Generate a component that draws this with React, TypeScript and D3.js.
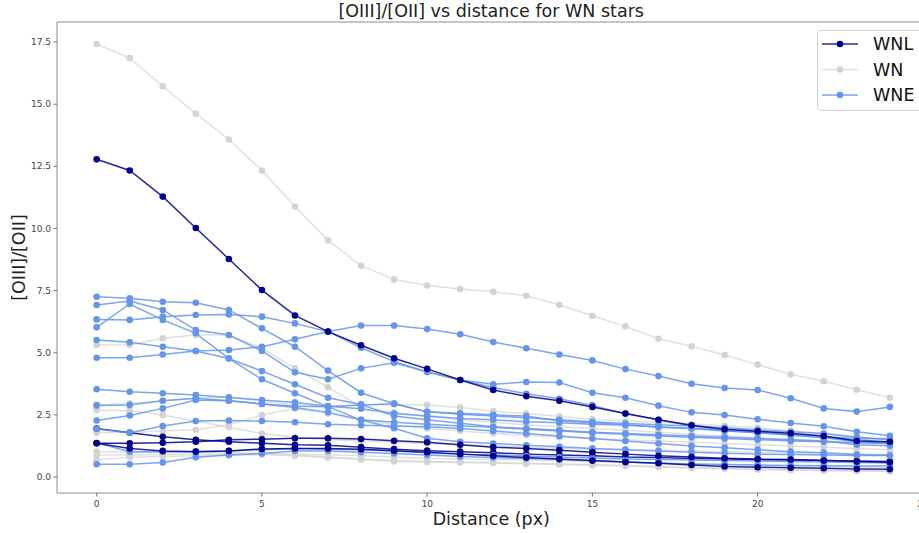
import React from "react";
import * as d3 from "d3";

const distances = d3.range(0, 25);

const xTicks = [0, 5, 10, 15, 20, 25];
const yTicks = [0, 2.5, 5, 7.5, 10, 12.5, 15, 17.5];

const typeNames = ["WNL", "WN", "WNE"];

// WN (gray) profiles
const wn1 = [17.42,16.85,15.72,14.62,13.58,12.33,10.88,9.52,8.5,7.95,7.7,7.56,7.45,7.29,6.93,6.49,6.06,5.56,5.26,4.91,4.52,4.13,3.85,3.51,3.19];
const wn2 = [5.31,5.31,5.58,5.71,5.71,5.18,4.37,3.61,2.83,2.6,2.42,2.3,2.2,2.1,2.02,1.95,1.88,1.8,1.72,1.65,1.58,1.52,1.45,1.4,1.35];
const wn3 = [2.9,2.96,3.07,3.17,3.23,3.05,2.9,2.85,2.9,2.92,2.9,2.8,2.65,2.55,2.43,2.32,2.26,2.2,2.13,2.06,1.98,1.86,1.75,1.6,1.5];
const wn4 = [2.7,2.67,2.49,2.25,2.0,1.75,1.6,1.5,1.45,1.4,1.35,1.3,1.25,1.2,1.15,1.12,1.1,1.08,1.05,1.02,1.0,0.98,0.95,0.92,0.9];
const wn5 = [1.78,1.8,1.85,1.9,2.1,2.49,2.75,2.55,2.3,2.1,1.95,1.85,1.75,1.68,1.6,1.55,1.5,1.45,1.4,1.35,1.3,1.25,1.2,1.15,1.1];
const wn6 = [1.02,1.0,1.0,1.0,0.98,0.95,0.92,0.88,0.85,0.8,0.75,0.72,0.7,0.68,0.65,0.62,0.6,0.55,0.52,0.5,0.48,0.45,0.42,0.4,0.38];
const wn7 = [0.88,0.88,0.9,0.92,0.92,0.92,0.88,0.8,0.72,0.66,0.62,0.6,0.58,0.55,0.52,0.5,0.46,0.42,0.38,0.35,0.3,0.28,0.26,0.24,0.22];
const wn8 = [0.68,0.79,0.82,0.85,0.88,0.9,0.85,0.78,0.7,0.62,0.6,0.58,0.56,0.53,0.5,0.47,0.44,0.4,0.36,0.33,0.3,0.28,0.26,0.25,0.24];

// WNE (cornflower blue) profiles
const wne1 = [7.25,7.19,7.05,7.01,6.72,5.98,5.24,4.28,3.39,2.95,2.62,2.52,2.45,2.38,2.3,2.22,2.15,2.1,2.05,1.98,1.9,1.82,1.75,1.6,1.52];
const wne2 = [6.92,7.08,6.72,5.91,5.71,5.07,4.21,3.93,4.37,4.6,4.22,3.9,3.73,3.82,3.8,3.39,3.19,2.87,2.6,2.49,2.32,2.17,2.04,1.82,1.66];
const wne3 = [6.02,6.96,6.32,5.78,4.77,3.93,3.37,2.83,2.29,1.96,1.56,1.42,1.35,1.28,1.22,1.15,1.1,1.05,1.0,0.96,0.92,0.9,0.88,0.86,0.86];
const wne4 = [6.34,6.32,6.45,6.52,6.54,6.45,6.18,5.85,5.2,4.64,4.24,3.9,3.6,3.35,3.15,2.88,2.55,2.3,2.05,1.88,1.78,1.68,1.58,1.42,1.35];
const wne5 = [4.8,4.8,4.93,5.07,5.11,5.24,5.54,5.85,6.09,6.09,5.95,5.74,5.43,5.18,4.93,4.69,4.34,4.06,3.75,3.58,3.5,3.17,2.76,2.63,2.82];
const wne6 = [5.51,5.42,5.24,5.07,4.77,4.26,3.73,3.19,2.92,2.45,2.3,2.16,2.02,1.95,1.88,1.8,1.75,1.7,1.65,1.6,1.55,1.5,1.45,1.3,1.26];
const wne7 = [3.53,3.43,3.37,3.3,3.2,3.1,3.0,2.85,2.75,2.55,2.45,2.35,2.3,2.22,2.18,2.12,2.08,2.02,1.95,1.88,1.82,1.72,1.62,1.55,1.53];
const wne8 = [2.88,2.9,3.07,3.17,3.07,2.94,2.85,2.83,2.9,2.95,2.62,2.56,2.5,2.45,2.25,2.18,2.1,2.0,1.95,1.85,1.78,1.7,1.6,1.5,1.4];
const wne9 = [2.27,2.47,2.76,3.1,3.07,2.94,2.8,2.6,2.3,2.2,2.12,2.05,2.0,1.92,1.85,1.78,1.72,1.65,1.6,1.55,1.5,1.45,1.42,1.38,1.35];
const wne10 = [1.93,1.78,2.05,2.25,2.27,2.25,2.2,2.12,2.08,2.05,2.02,1.95,1.85,1.75,1.65,1.55,1.45,1.35,1.25,1.18,1.1,1.02,0.98,0.9,0.86];
const wne11 = [1.38,1.02,1.02,1.03,1.05,1.1,1.15,1.12,1.1,1.05,0.98,0.92,0.88,0.84,0.8,0.76,0.72,0.7,0.68,0.66,0.64,0.62,0.6,0.58,0.56];
const wne12 = [0.51,0.51,0.58,0.79,0.88,0.95,1.05,1.05,1.0,0.95,0.88,0.82,0.78,0.74,0.7,0.65,0.6,0.56,0.52,0.5,0.48,0.46,0.45,0.44,0.44];

// WNL (dark blue) profiles
const wnl1 = [12.78,12.33,11.28,10.02,8.77,7.52,6.5,5.85,5.3,4.78,4.35,3.9,3.5,3.25,3.07,2.82,2.55,2.3,2.08,1.92,1.84,1.76,1.65,1.45,1.42];
const wnl2 = [1.36,1.36,1.38,1.42,1.5,1.52,1.56,1.56,1.53,1.46,1.4,1.3,1.2,1.15,1.08,1.0,0.92,0.85,0.8,0.75,0.72,0.7,0.66,0.62,0.59];
const wnl3 = [1.36,1.15,1.05,1.02,1.05,1.13,1.15,1.15,1.12,1.06,1.0,0.92,0.85,0.78,0.72,0.66,0.6,0.55,0.48,0.42,0.39,0.37,0.35,0.32,0.31];
const wnl4 = [1.95,1.78,1.62,1.5,1.42,1.36,1.3,1.28,1.2,1.12,1.06,1.02,0.98,0.92,0.88,0.85,0.8,0.78,0.74,0.72,0.7,0.68,0.66,0.64,0.62];

const W = 919;
const H = 533;
const L = 57, R = 929.5, T = 22, B = 493;

const STYLE: Record<string, { line: string; marker: string; lineOpacity: number }> = {
  WNL: { line: "#00008B", marker: "#00008B", lineOpacity: 0.85 },
  WN: { line: "#D3D3D3", marker: "#D3D3D3", lineOpacity: 0.7 },
  WNE: { line: "#6495ED", marker: "#6495ED", lineOpacity: 0.85 },
};

// drawing order (type, profile)
const drawOrder: [string, number[]][] = [
  ["WN", wn1], ["WN", wn2], ["WN", wn3], ["WN", wn4], ["WN", wn5], ["WN", wn6], ["WN", wn7], ["WN", wn8],
  ["WNL", wnl4],
  ["WNE", wne1], ["WNE", wne2], ["WNE", wne3], ["WNE", wne4], ["WNE", wne5], ["WNE", wne6],
  ["WNE", wne7], ["WNE", wne8], ["WNE", wne9], ["WNE", wne10], ["WNE", wne11], ["WNE", wne12],
  ["WNL", wnl1], ["WNL", wnl2], ["WNL", wnl3],
];

export default function App() {
  const x = d3.scaleLinear().domain([-1.2, 25.2]).range([L, R]);
  const y = d3.scaleLinear().domain([-0.644, 18.305]).range([B, T]);
  const line = d3
    .line<number>()
    .x((_, i) => x(distances[i]))
    .y((v) => y(v));

  const font = "DejaVu Sans, sans-serif";

  return (
    <svg width={W} height={H} style={{ position: "absolute", left: 0, top: 0, background: "#fff" }} fontFamily={font}>
      <defs>
        <clipPath id="plotclip">
          <rect x={L} y={T} width={R - L} height={B - T} />
        </clipPath>
      </defs>
      <rect x={0} y={0} width={W} height={H} fill="#fff" />
      <g clipPath="url(#plotclip)">
        {drawOrder.map(([type, s], si) => (
          <g key={type + si}>
            <path d={line(s) || ""} fill="none" stroke={STYLE[type].line} strokeOpacity={STYLE[type].lineOpacity} strokeWidth={1.5} />
            {s.map((v, i) => (
              <circle key={i} cx={x(distances[i])} cy={y(v)} r={3.3} fill={STYLE[type].marker} />
            ))}
          </g>
        ))}
      </g>
      {/* spines */}
      <line x1={L} x2={L} y1={T} y2={B} stroke="#8c8c8c" strokeWidth={1} />
      <line x1={L} x2={W} y1={B} y2={B} stroke="#8c8c8c" strokeWidth={1} />
      <line x1={L} x2={W} y1={T} y2={T} stroke="#8c8c8c" strokeWidth={1} />
      {/* x ticks */}
      {xTicks.map((t) => (
        <g key={"x" + t}>
          <line x1={x(t)} x2={x(t)} y1={B} y2={B + 3.5} stroke="#555" strokeWidth={0.8} />
          <text x={x(t)} y={B + 14} textAnchor="middle" fontSize={9} fill="#444">
            {t}
          </text>
        </g>
      ))}
      {/* y ticks */}
      {yTicks.map((t) => (
        <g key={"y" + t}>
          <line x1={L - 3.5} x2={L} y1={y(t)} y2={y(t)} stroke="#555" strokeWidth={0.8} />
          <text x={L - 6} y={y(t) + 3.2} textAnchor="end" fontSize={9} fill="#444">
            {t.toFixed(1)}
          </text>
        </g>
      ))}
      <text x={(L + R) / 2 - 2} y={17} textAnchor="middle" fontSize={17.5} fill="#222">
        [OIII]/[OII] vs distance for WN stars
      </text>
      <text x={(L + R) / 2 - 2} y={525} textAnchor="middle" fontSize={17.5} fill="#222">
        Distance (px)
      </text>
      <text transform={`translate(25, ${(T + B) / 2}) rotate(-90)`} textAnchor="middle" fontSize={17.5} fill="#222">
        [OIII]/[OII]
      </text>
      {/* legend */}
      <g>
        <rect x={817.5} y={30.5} width={120} height={80} rx={3} fill="#fff" fillOpacity={0.8} stroke="#d0d0d0" />
        {typeNames.map((n, i) => {
          const ly = 44 + i * 25.5;
          return (
            <g key={n}>
              <line x1={822} x2={858} y1={ly} y2={ly} stroke={STYLE[n].line} strokeOpacity={STYLE[n].lineOpacity} strokeWidth={1.5} />
              <circle cx={840} cy={ly} r={3.3} fill={STYLE[n].marker} />
              <text x={873} y={ly + 6.3} fontSize={17.5} fill="#111">
                {n}
              </text>
            </g>
          );
        })}
      </g>
    </svg>
  );
}
